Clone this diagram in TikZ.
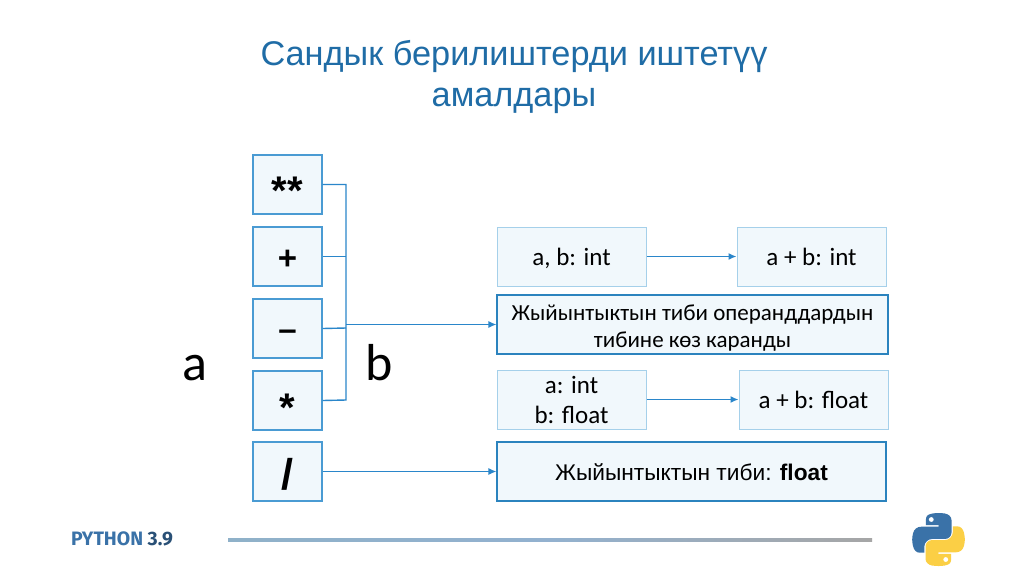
\documentclass[tikz,border=0pt]{standalone}
\usepackage{fontspec}
\setmainfont{Carlito}
\newfontfamily\liber{Liberation Sans}
\newfontfamily\logofont{Fira Sans}
\usetikzlibrary{arrows.meta,positioning}
\definecolor{boxfill}{HTML}{F1F8FC}
\definecolor{boxline}{HTML}{4A9BD3}
\definecolor{boxpale}{HTML}{A5D0EA}
\definecolor{boxdark}{HTML}{2B83BE}
\definecolor{linkc}{HTML}{2A86CA}
\definecolor{titlec}{HTML}{1F6CA6}
\definecolor{logoblue}{HTML}{3A72A8}
\definecolor{logoyellow}{HTML}{FBCF45}
\newcommand{\snake}{(54.9,0) .. controls (50.3,0) and (45.9,0.4) .. (42.1,1.1) .. controls (30.8,3.1) and (28.8,7.3) .. (28.8,15) -- (28.8,25.1) -- (55.4,25.1) -- (55.4,28.5) -- (18.8,28.5) .. controls (11.1,28.5) and (4.3,33.1) .. (2.2,41.9) .. controls (-0.2,52) and (-0.3,58.3) .. (2.2,68.9) .. controls (4.1,76.7) and (8.6,82.4) .. (16.3,82.4) -- (25.4,82.4) -- (25.4,70.3) .. controls (25.4,61.5) and (33,53.8) .. (42.1,53.8) -- (68.7,53.8) .. controls (76.1,53.8) and (82,47.7) .. (82,40.3) -- (82,15) .. controls (82,7.8) and (75.9,2.4) .. (68.7,1.1) .. controls (64.1,0.4) and (59.4,0) .. (54.9,0) -- cycle}
\tikzset{
  x=1pt,y=-1pt,
  textbase/.style={text height=#1*2pt,text depth=0pt},
  opbox/.style={draw=boxline,fill=boxfill,line width=1.1pt,minimum width=69pt,minimum height=59pt,inner sep=0pt,font=\liber\bfseries\fontsize{33}{33}\selectfont},
  resbox/.style={draw=boxpale,fill=boxfill,line width=1pt,minimum height=59pt,inner sep=0pt,align=center,font=\fontsize{25}{30}\selectfont},
  darkbox/.style={resbox,draw=boxdark,line width=1.1pt},
  link/.style={draw=linkc,line width=1.4pt},
  arrowlink/.style={link,-{Latex[length=8pt,width=7pt]}},
  biglabel/.style={font=\fontsize{52}{52}\selectfont,inner sep=0pt,anchor=base}
}
\begin{document}
\begin{tikzpicture}
\useasboundingbox[fill=white] (0,0) rectangle (1024,574);
\node[font=\liber\fontsize{34.3}{41}\selectfont,text=titlec,align=center,inner sep=0pt] (title) at (514,77) {Сандык берилиштерди иштетүү\\амалдары};
\node[opbox,textbase=19.5,font=\liber\bfseries\fontsize{40}{40}\selectfont] (op1) at (287.5,184.5) {**};
\node[opbox,textbase=12.5] (op2) at (287.5,256.5) {+};
\node[opbox,textbase=11.5] (op3) at (287.5,328.5) {–};
\node[opbox,textbase=20.5,font=\liber\bfseries\fontsize{40}{40}\selectfont] (op4) at (287.5,400.5) {*};
\node[opbox,textbase=17.5,font=\liber\bfseries\fontsize{43}{43}\selectfont] (op5) at (287.5,471.5) {/};
\node[biglabel] (la) at (195,380) {a};
\node[biglabel] (lb) at (379.5,380) {b};
\node[resbox,minimum width=149pt,textbase=8.5] (r1a) at (571.5,256.5) {a, b: int};
\node[resbox,minimum width=149pt,textbase=8.5] (r1b) at (811.5,256.5) {a + b: int};
\node[darkbox,minimum width=391pt,font=\fontsize{23}{27.5}\selectfont] (r2) at (692.5,324.5) {\rule{0pt}{23pt}Жыйынтыктын тиби операнддардын\\тибине көз каранды};
\node[resbox,minimum width=149pt] (r3a) at (571.5,399.5) {a: int\\b: float};
\node[resbox,minimum width=149pt,textbase=9] (r3b) at (813.5,399.5) {a + b: float};
\node[darkbox,minimum width=389pt,textbase=8.5,font=\liber\fontsize{22.7}{28}\selectfont] (r4) at (691.5,471.5) {Жыйынтыктын тиби: \textbf{float}};
\coordinate (b1) at (346,184.5);
\coordinate (b2) at (346,256.5);
\coordinate (b3) at (346,328);
\coordinate (b4) at (346,400);
\coordinate (bout) at (346,324.5);
\draw[link] (op1.east) -- (b1) -- (b4) -- (op4.east);
\draw[link] (op2.east) -- (b2);
\draw[link] (op3.east) -- (b3);
\draw[arrowlink] (bout) -- (r2.west);
\draw[arrowlink] (op5.east) -- (op5.east -| r4.west);
\draw[arrowlink] (r1a) -- (r1b);
\draw[arrowlink] (r3a) -- (r3b);
\node[font=\logofont\bfseries\fontsize{19.4}{19.4}\selectfont,text=logoblue,inner sep=0pt] (brand) at (122,539) {PYTHON \textcolor{logoblue!70!black}{3.9}};
\shade[left color=boxline!60!gray!70!white,right color=black!35!white,middle color=logoblue!55!white] (228,538.6) rectangle (872,541);
\begin{scope}[shift={(912,513)},x=0.482pt,y=-0.482pt]
  \fill[logoblue] \snake;
  \fill[white] (40,13.5) circle (5);
  \begin{scope}[shift={(110,110)},x=-0.482pt,y=0.482pt]
    \fill[logoyellow] \snake;
    \fill[white] (40,13.5) circle (5);
  \end{scope}
\end{scope}
\end{tikzpicture}
\end{document}
